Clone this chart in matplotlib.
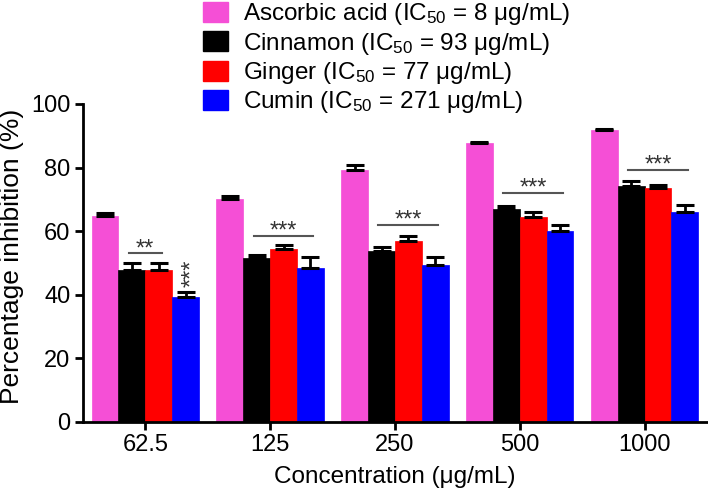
import numpy as np
import matplotlib.pyplot as plt
from matplotlib.patches import Patch

plt.rcParams['font.family'] = ['Liberation Sans', 'DejaVu Sans']
plt.rcParams['mathtext.default'] = 'regular'

concs = ['62.5', '125', '250', '500', '1000']
names = [r'Ascorbic acid (IC$_{50}$ = 8 μg/mL)', r'Cinnamon (IC$_{50}$ = 93 μg/mL)',
         r'Ginger (IC$_{50}$ = 77 μg/mL)', r'Cumin (IC$_{50}$ = 271 μg/mL)']
colors = ['#F54FD6', '#000000', '#FF0000', '#0000FF']

ascorbic = [64.8, 70.1, 79.2, 87.6, 91.7]
cinnamon = [47.8, 51.5, 53.7, 66.9, 74.3]
ginger = [47.8, 54.5, 57.0, 64.5, 73.7]
cumin = [39.2, 48.5, 49.3, 60.0, 66.1]
ascorbic_err = [1.0, 1.1, 1.5, 0.4, 0.5]
cinnamon_err = [2.3, 0.9, 1.2, 1.1, 1.5]
ginger_err = [2.3, 1.1, 1.6, 1.4, 0.8]
cumin_err = [1.6, 3.5, 2.6, 1.9, 2.0]

# significance bars: (group, first bar, last bar, height, label)
sig_group = [0, 1, 2, 3, 4]
sig_from = [1, 1, 1, 1, 1]
sig_to = [2, 3, 3, 3, 3]
sig_y = [53.0, 58.6, 62.0, 72.0, 79.2]
sig_text = ['**', '***', '***', '***', '***']

series = [ascorbic, cinnamon, ginger, cumin]
errs = [ascorbic_err, cinnamon_err, ginger_err, cumin_err]

fig = plt.figure(figsize=(7.08, 4.95), dpi=100)
ax = fig.add_axes([0.117, 0.1475, 0.8816, 0.6425])

x = np.arange(len(concs))
w = 0.215
for i in range(4):
    pos = x + (i - 1.5) * w
    ax.bar(pos, series[i], w, color=colors[i], edgecolor=colors[i], linewidth=0.5, zorder=2)
    ax.errorbar(pos, series[i], yerr=[np.zeros(5), errs[i]], fmt='none', ecolor='black',
                elinewidth=2, capsize=6.5, capthick=2.2, zorder=3)

for g, a, b, yy, t in zip(sig_group, sig_from, sig_to, sig_y, sig_text):
    x0 = g + (a - 1.5) * w - 0.025
    x1 = g + (b - 1.5) * w + 0.025
    ax.plot([x0, x1], [yy, yy], color='#555555', lw=1.5, zorder=3)
    ax.text((x0 + x1) / 2, yy - 0.6, t, ha='center', va='baseline', fontsize=17, color='#333333')

# cumin at 62.5 vs ascorbic
ax.text(0 + 1.5 * w + 0.1, cumin[0] + cumin_err[0] + 1.8, '***', rotation=90,
        rotation_mode='anchor', ha='left', va='baseline', fontsize=17, color='#333333')

ax.set_xlim(-0.5, 4.5)
ax.set_ylim(0, 100)
ax.set_xticks(x)
ax.set_xticklabels(concs, fontsize=17)
ax.set_yticks(np.arange(0, 101, 20))
ax.tick_params(axis='y', labelsize=17)
ax.tick_params(width=2, length=6, direction='out', pad=3)
for s in ['top', 'right']:
    ax.spines[s].set_visible(False)
for s in ['left', 'bottom']:
    ax.spines[s].set_linewidth(2)
ax.set_ylabel('Percentage inhibition (%)', fontsize=19, labelpad=6)
ax.yaxis.set_label_coords(-0.095, 0.52)
ax.set_xlabel('Concentration (μg/mL)', fontsize=17.5, labelpad=7)

handles = [Patch(facecolor=c, edgecolor=c) for c in colors]
fig.legend(handles, names, loc='upper left', bbox_to_anchor=(0.285, 1.0), frameon=False,
           fontsize=17.5, handlelength=1.03, handleheight=0.9, handletextpad=0.62,
           labelspacing=0.14, borderpad=0.05, borderaxespad=0)

fig.savefig('out.png', dpi=100)
